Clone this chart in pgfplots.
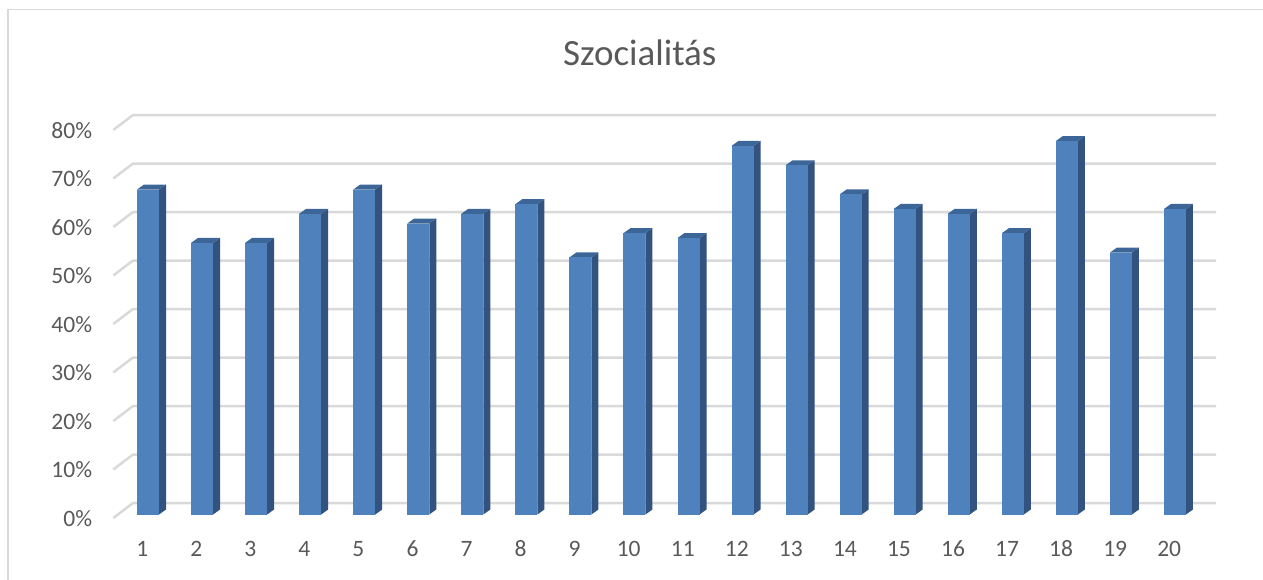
\documentclass[border=0pt]{standalone}
\usepackage{pgfplots}
\pgfplotsset{compat=1.18}
\usepackage{fontspec}
\setmainfont{Carlito}

\definecolor{barfront}{RGB}{79,129,189}
\definecolor{barside}{RGB}{50,82,128}
\definecolor{bartop}{RGB}{60,101,152}
\definecolor{gridc}{RGB}{217,217,217}
\definecolor{txt}{RGB}{89,89,89}

% 3D column drawn from its top front centre; height from the data value
\pgfdeclareplotmark{bar3d}{%
  \pgfmathsetmacro\h{\barv*4.85}%
  \pgfsetfillcolor{barside}%
  \pgfpathmoveto{\pgfqpoint{11pt}{0pt}}%
  \pgfpathlineto{\pgfqpoint{18pt}{5pt}}%
  \pgfpathlineto{\pgfpoint{18pt}{5pt-\h pt}}%
  \pgfpathlineto{\pgfpoint{11pt}{-\h pt}}%
  \pgfpathclose
  \pgfusepath{fill}%
  \pgfsetfillcolor{bartop}%
  \pgfpathmoveto{\pgfqpoint{-11pt}{0pt}}%
  \pgfpathlineto{\pgfqpoint{-4pt}{5pt}}%
  \pgfpathlineto{\pgfqpoint{18pt}{5pt}}%
  \pgfpathlineto{\pgfqpoint{11pt}{0pt}}%
  \pgfpathclose
  \pgfusepath{fill}%
  \pgfsetfillcolor{barfront}%
  \pgfpathrectanglecorners{\pgfqpoint{-11pt}{0pt}}{\pgfpoint{11pt}{-\h pt}}%
  \pgfusepath{fill}%
}

\begin{document}
\begin{tikzpicture}
\useasboundingbox (0,0) rectangle (1263pt,-579pt);
\draw[gridc, line width=1.5pt] (8pt,-600pt) -- (8pt,-9.5pt) -- (1280pt,-9.5pt);
\begin{axis}[
  at={(93.95pt,-514.5pt)}, anchor=south west,
  x=54.05pt, y=4.85pt,
  xmin=0, xmax=21.5, ymin=0, ymax=85,
  axis line style={draw=none},
  major tick length=0pt,
  clip=false,
  xtick={1,...,20},
  ytick={0,10,...,80},
  /pgf/number format/assume math mode=true,
  xticklabel={\pgfmathprintnumber{\tick}},
  yticklabel={\pgfmathprintnumber{\tick}\%},
  ticklabel style={font=\fontsize{23.5}{28}\selectfont, text=txt, inner sep=0pt},
  xticklabel style={anchor=base, xshift=-5.75pt, yshift=-41.5pt},
  yticklabel style={anchor=base east, xshift=-1.7pt, yshift=-11.5pt},
]
\pgfplotsinvokeforeach{0,10,20,30,40,50,60,70,80}{
  \draw[gridc, line width=2.5pt, line join=round]
    ([shift={(0pt,-3.5pt)}]axis cs:0.3578,#1) --
    ([shift={(0pt,11.5pt)}]axis cs:0.7225,#1) --
    ([shift={(0pt,11.5pt)}]axis cs:20.76,#1);
}
\addplot[only marks, mark=bar3d, visualization depends on={rawy \as \barv}] table {
x y
1 67
2 56
3 56
4 62
5 67
6 60
7 62
8 64
9 53
10 58
11 57
12 76
13 72
14 66
15 63
16 62
17 58
18 77
19 54
20 63
};
\node[anchor=base, font=\fontsize{37}{44}\selectfont, text=txt] at (axis cs:10.10,92.54) {Szocialitás};
\end{axis}
\end{tikzpicture}
\end{document}
